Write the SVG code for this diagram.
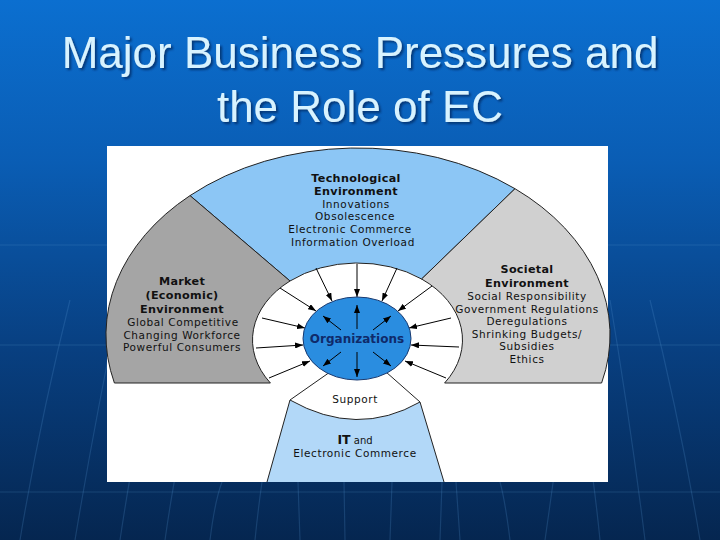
<svg xmlns="http://www.w3.org/2000/svg" width="720" height="540" viewBox="0 0 720 540">
<defs>
<linearGradient id="bg" x1="0" y1="0" x2="0" y2="1">
<stop offset="0" stop-color="#0b6fd0"/>
<stop offset="0.3" stop-color="#0a5db4"/>
<stop offset="0.65" stop-color="#083f80"/>
<stop offset="1" stop-color="#052650"/>
</linearGradient>
<filter id="shadow" x="-5%" y="-20%" width="110%" height="140%">
<feDropShadow dx="2" dy="2" stdDeviation="1" flood-color="#062a5e" flood-opacity="0.75"/>
</filter>
<marker id="ah" viewBox="0 0 8 6" refX="8" refY="3" markerWidth="8" markerHeight="6" markerUnits="userSpaceOnUse" orient="auto">
<path d="M0,0 L8,3 L0,6 z" fill="#000"/>
</marker>
</defs>
<style>
.t{font-family:"DejaVu Sans","Liberation Sans",sans-serif;fill:#111;text-anchor:middle}
.b{font-weight:bold;font-size:11.2px;letter-spacing:0.3px}
.r{font-size:10.5px;letter-spacing:0.6px}
.reg{stroke:#222;stroke-width:1}
.arr{stroke:#000;stroke-width:1;fill:none;marker-end:url(#ah)}
.grid{stroke:#5a9ad8;stroke-width:1.2;fill:none;opacity:0.22}
.title{font-family:"Liberation Sans",Arial,sans-serif;font-size:44px;text-anchor:middle;fill:#d8f3ff;filter:url(#shadow)}
</style>
<rect width="720" height="540" fill="url(#bg)"/>
<g id="grid">
<path class="grid" d="M0,245 H720 M0,345 H720 M0,492 H720"/>
<path class="grid" d="M20,540 Q40,420 70,300 M75,540 Q95,420 120,300 M120,540 Q135,440 150,380 M165,540 Q175,470 185,430 M210,540 Q215,500 222,482 M500,482 Q505,500 510,540 M545,540 Q555,470 560,430 M600,540 Q590,440 575,380 M645,540 Q630,420 610,300 M700,540 Q680,420 650,300"/>
<path class="grid" d="M255,540 Q258,510 262,482 M300,540 L298,482 M345,540 L344,482 M390,540 L392,482 M440,540 L442,482 M460,540 Q458,510 456,482"/>
</g>
<g id="title">
<text class="title" x="360" y="68">Major Business Pressures and</text>
<text class="title" x="360" y="122">the Role of EC</text>
</g>
<rect id="panel" x="107" y="146" width="501" height="336" fill="#fff"/>
<g id="tech">
<path class="reg" fill="#8cc6f5" d="M190,195.6 A252,187 0 0 1 515,188.7 L421.6,279 A105,77 0 0 0 290,281 Z"/>
<text class="t b" x="356" y="182">Technological</text>
<text class="t b" x="356" y="195">Environment</text>
<text class="t r" x="356" y="208">Innovations</text>
<text class="t r" x="355" y="220">Obsolescence</text>
<text class="t r" x="350" y="233">Electronic Commerce</text>
<text class="t r" x="353" y="246">Information Overload</text>
</g>
<g id="market">
<path class="reg" fill="#a5a5a5" d="M114.4,383 A252,187 0 0 1 190,195.6 L290,281 A105,77 0 0 0 270.4,383 Z"/>
<text class="t b" x="182" y="285">Market</text>
<text class="t b" x="182" y="299">(Economic)</text>
<text class="t b" x="182" y="313">Environment</text>
<text class="t r" x="183" y="326">Global Competitive</text>
<text class="t r" x="182" y="338.5">Changing Workforce</text>
<text class="t r" x="182" y="351">Powerful Consumers</text>
</g>
<g id="societal">
<path class="reg" fill="#d0d0d0" d="M515,188.7 A252,187 0 0 1 601.6,383 L444.6,383 A105,77 0 0 0 421.6,279 Z"/>
<text class="t b" x="527" y="273">Societal</text>
<text class="t b" x="527" y="287">Environment</text>
<text class="t r" x="527" y="300">Social Responsibility</text>
<text class="t r" x="527" y="312.5">Government Regulations</text>
<text class="t r" x="527" y="325">Deregulations</text>
<text class="t r" x="527" y="337.5">Shrinking Budgets/</text>
<text class="t r" x="527" y="350">Subsidies</text>
<text class="t r" x="527" y="362.5">Ethics</text>
</g>
<g id="it">
<path fill="#b2d8f8" d="M290,400 Q357,438 420,402 L444,482 L267,482 Z"/>
<path class="reg" fill="none" d="M267,482 L290,400 Q357,438 420,402 L444,482"/>
<text class="t" x="355" y="444"><tspan font-weight="bold" font-size="12.5px">IT</tspan><tspan font-size="10px"> and</tspan></text>
<text class="t r" x="355" y="457">Electronic Commerce</text>
</g>
<g id="support">
<path class="reg" fill="none" d="M290,400 L330,372 M420,402 L386,372"/>
<text class="t r" x="355" y="403">Support</text>
</g>
<g id="connectors">
<path class="arr" d="M316,268 L332,301"/>
<path class="arr" d="M357,264 L357,297"/>
<path class="arr" d="M397,268 L382,301"/>
<path class="arr" d="M280,288 L316,311"/>
<path class="arr" d="M262,318 L305,328"/>
<path class="arr" d="M256,348 L303,345"/>
<path class="arr" d="M269,378 L310,361"/>
<path class="arr" d="M432,286 L398,311"/>
<path class="arr" d="M451,318 L409,328"/>
<path class="arr" d="M459,347 L411,345"/>
<path class="arr" d="M446,378 L405,361"/>
</g>
<g id="org">
<ellipse cx="357" cy="338.5" rx="54" ry="41.5" fill="#2a8de0" stroke="#1a3a70" stroke-width="1"/>
<path class="arr" d="M357,329 L357,305"/>
<path class="arr" d="M357,352 L357,377"/>
<path class="arr" d="M341,330 L323,316"/>
<path class="arr" d="M373,330 L391,316"/>
<path class="arr" d="M341,352 L323,366"/>
<path class="arr" d="M373,352 L391,366"/>
<text class="t" x="357" y="343" style="fill:#0f2a6a;font-weight:bold;font-size:12px">Organizations</text>
</g>
</svg>
